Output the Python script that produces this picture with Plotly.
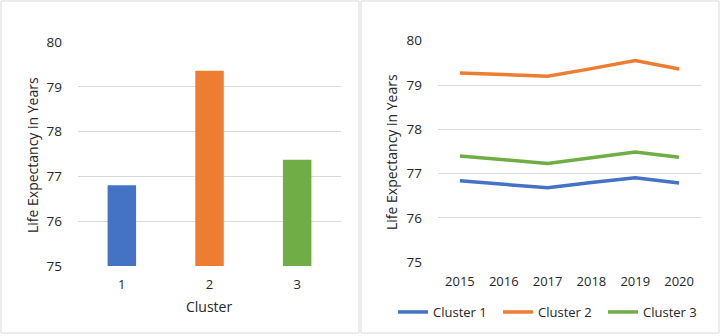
import plotly.graph_objects as go

# ---- data ----
clusters = ["1", "2", "3"]
cluster_life = [76.8, 79.36, 77.37]
bar_colors = ["#4472C4", "#ED7D31", "#70AD47"]

years = ["2015", "2016", "2017", "2018", "2019", "2020"]
cluster1 = [76.84, 76.76, 76.68, 76.80, 76.91, 76.79]
cluster2 = [79.27, 79.24, 79.20, 79.37, 79.55, 79.36]
cluster3 = [77.40, 77.32, 77.23, 77.36, 77.49, 77.37]
series_names = ["Cluster 1", "Cluster 2", "Cluster 3"]

W, H = 720, 336
FONT = "Open Sans"
TXT = "#262626"
GRID = "#d9d9d9"

def px(x):
    return x / W

def py(y):
    return 1 - y / H

fig = go.Figure()

fig.add_trace(go.Bar(x=clusters, y=cluster_life, marker_color=bar_colors,
                     marker_line_width=0, showlegend=False,
                     xaxis="x", yaxis="y"))

for name, vals, col in zip(series_names, [cluster1, cluster2, cluster3], bar_colors):
    fig.add_trace(go.Scatter(x=years, y=vals, mode="lines", name=name,
                             line=dict(color=col, width=3.5),
                             xaxis="x2", yaxis="y2"))

yax = dict(range=[75, 80], dtick=1, tick0=75, showgrid=True, gridcolor=GRID,
           gridwidth=1, zeroline=False, showline=False, ticks="", automargin=False,
           ticklabelstandoff=15, tickfont=dict(family=FONT, size=13.5, color=TXT))
xax = dict(type="category", showgrid=False, zeroline=False, showline=False,
           ticks="", automargin=False, tickfont=dict(family=FONT, size=13, color=TXT))

fig.update_layout(
    width=W, height=H, autosize=False,
    margin=dict(l=0, r=0, t=0, b=0, autoexpand=False),
    paper_bgcolor="white", plot_bgcolor="white",
    bargap=0.675,
    xaxis=dict(xax, domain=[px(78), px(341)], anchor="y", ticklabelstandoff=9),
    yaxis=dict(yax, domain=[py(266), py(42)], anchor="x"),
    xaxis2=dict(xax, domain=[px(438), px(701)], anchor="y2", ticklabelstandoff=10,
                range=[-0.5, len(years) - 0.5]),
    yaxis2=dict(yax, domain=[py(262.3), py(40.7)], anchor="x2"),
    legend=dict(orientation="h", x=px(393), y=py(312), xanchor="left", yanchor="middle",
                entrywidth=60, entrywidthmode="pixels",
                font=dict(family=FONT, size=13, color=TXT), bgcolor="rgba(0,0,0,0)",
                itemclick=False),
    showlegend=True,
    shapes=[
        dict(type="rect", xref="paper", yref="paper", x0=px(1), x1=px(359), y0=py(333), y1=py(1),
             line=dict(color=GRID, width=1)),
        dict(type="rect", xref="paper", yref="paper", x0=px(361), x1=px(719), y0=py(333), y1=py(1),
             line=dict(color=GRID, width=1)),
    ],
    annotations=[
        dict(text="Life Expectancy in Years", textangle=-90, xref="paper", yref="paper",
             x=px(32), y=py(155), xanchor="center", yanchor="middle", showarrow=False,
             font=dict(family=FONT, size=14, color=TXT)),
        dict(text="Life Expectancy in Years", textangle=-90, xref="paper", yref="paper",
             x=px(392), y=py(152), xanchor="center", yanchor="middle", showarrow=False,
             font=dict(family=FONT, size=14, color=TXT)),
        dict(text="Cluster", xref="paper", yref="paper",
             x=px(209), y=py(306), xanchor="center", yanchor="middle", showarrow=False,
             font=dict(family=FONT, size=14, color=TXT)),
    ],
)

fig.write_html("out.html", config={"displayModeBar": False},
               post_script="document.body.style.margin='0';document.body.style.overflow='hidden';")
